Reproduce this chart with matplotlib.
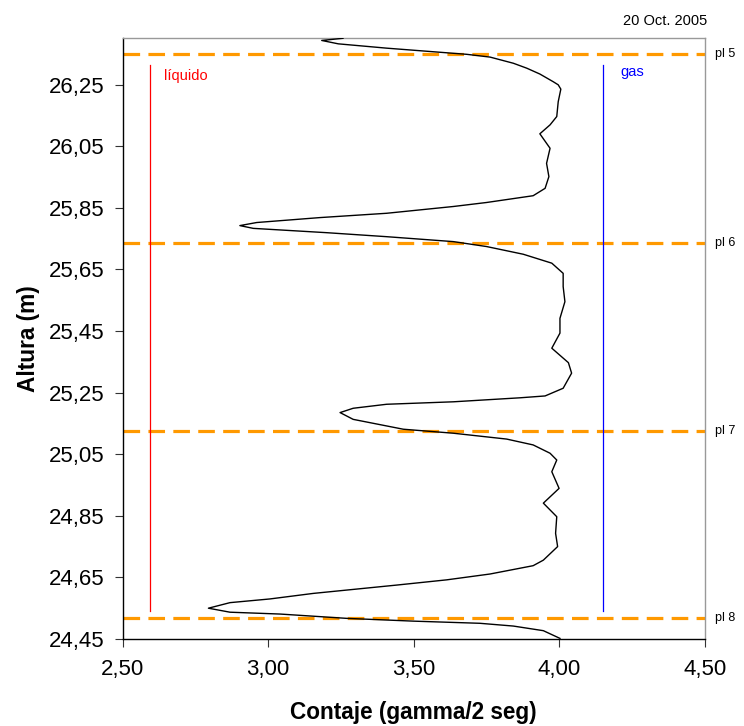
import matplotlib
matplotlib.use("Agg")
import matplotlib.pyplot as plt
import numpy as np

plt.rcParams['font.family'] = ['Liberation Sans', 'DejaVu Sans']

# Gamma count profile (x = count, y = height)
conteo = [3.257, 3.184, 3.241, 3.407, 3.682, 3.762, 3.842, 3.888, 3.933, 3.979, 3.996, 4.005,
          3.996, 3.991, 3.968, 3.933, 3.968, 3.956, 3.964, 3.951, 3.910, 3.830,
          3.750, 3.636, 3.407, 3.178, 2.961, 2.903, 2.949, 3.201, 3.407, 3.636,
          3.750, 3.876, 3.974, 4.013, 4.013, 4.019, 4.002, 4.002, 3.974, 4.031,
          4.042, 4.013, 3.951, 3.865, 3.636, 3.407, 3.292, 3.247, 3.292, 3.464,
          3.636, 3.819, 3.910, 3.968, 3.991, 3.974, 3.999, 3.945, 3.991, 3.987,
          3.994, 3.945, 3.910, 3.762, 3.613, 3.441, 3.155, 3.006, 2.869, 2.795,
          2.869, 3.041, 3.270, 3.498, 3.727, 3.842, 3.945, 4.002]
altura = [26.400, 26.393, 26.382, 26.368, 26.348, 26.339, 26.319, 26.303, 26.284, 26.259, 26.249, 26.235,
          26.194, 26.146, 26.119, 26.090, 26.043, 25.994, 25.951, 25.913, 25.889, 25.878,
          25.867, 25.854, 25.832, 25.818, 25.802, 25.792, 25.783, 25.769, 25.756, 25.740,
          25.724, 25.699, 25.670, 25.637, 25.594, 25.545, 25.491, 25.443, 25.394, 25.347,
          25.313, 25.264, 25.239, 25.233, 25.220, 25.212, 25.199, 25.185, 25.163, 25.131,
          25.118, 25.099, 25.080, 25.053, 25.031, 24.993, 24.939, 24.891, 24.847, 24.793,
          24.750, 24.706, 24.688, 24.661, 24.642, 24.625, 24.598, 24.580, 24.568, 24.550,
          24.537, 24.531, 24.517, 24.508, 24.501, 24.492, 24.477, 24.452]

platos = ["pl 5", "pl 6", "pl 7", "pl 8"]
platos_altura = [26.35, 25.737, 25.125, 24.517]

liquido_x = 2.595
gas_x = 4.151
ref_y = [24.54, 26.314]

xticks = [2.50, 3.00, 3.50, 4.00, 4.50]
yticks = [24.45, 24.65, 24.85, 25.05, 25.25, 25.45, 25.65, 25.85, 26.05, 26.25]

fig = plt.figure(figsize=(7.44, 7.26), dpi=100)
ax = fig.add_axes([122.5/744, 1-639/726, (705-122.5)/744, (639-38.3)/726])

ax.plot(conteo, altura, color='black', lw=1.0, zorder=3)

for yv in platos_altura:
    ax.axhline(yv, color='#FF9900', lw=2.3, dashes=(5.2, 2.6), zorder=2)

ax.plot([liquido_x, liquido_x], ref_y, color='#FF0000', lw=0.9)
ax.plot([gas_x, gas_x], ref_y, color='#0000FF', lw=0.9)

ax.text(2.6435, 26.278, "líquido", color='#FF0000', fontsize=10.5, va='center', ha='left')
ax.text(4.2106, 26.289, "gas", color='#0000FF', fontsize=10.5, va='center', ha='left')

for lab, yv in zip(platos, platos_altura):
    ax.text(1.018, yv, lab, transform=ax.get_yaxis_transform(), fontsize=9,
            va='center', ha='left')

fig.text(707.5/744, 1-21/726, "20 Oct. 2005", fontsize=10.5, ha='right', va='center')

ax.set_xlim(2.5, 4.5)
ax.set_ylim(24.45, 26.40)
ax.set_xticks(xticks)
ax.set_xticklabels([f"{v:.2f}".replace('.', ',') for v in xticks])
ax.set_yticks(yticks)
ax.set_yticklabels([f"{v:.2f}".replace('.', ',') for v in yticks])
ax.tick_params(axis='both', labelsize=16, length=5.5, width=0.8, color='#333333', direction='out')
ax.tick_params(axis='y', pad=7.5)
ax.tick_params(axis='x', pad=9)

ax.spines['left'].set_color('black')
ax.spines['bottom'].set_color('black')
ax.spines['top'].set_color('#999999')
ax.spines['right'].set_color('#999999')
for s in ax.spines.values():
    s.set_linewidth(1.0)

ax.set_xlabel("Contaje (gamma/2 seg)", fontsize=16.3, fontweight='bold', labelpad=15)
ax.set_ylabel("Altura (m)", fontsize=16.3, fontweight='bold', labelpad=6)

fig.savefig("out.png", dpi=100)
